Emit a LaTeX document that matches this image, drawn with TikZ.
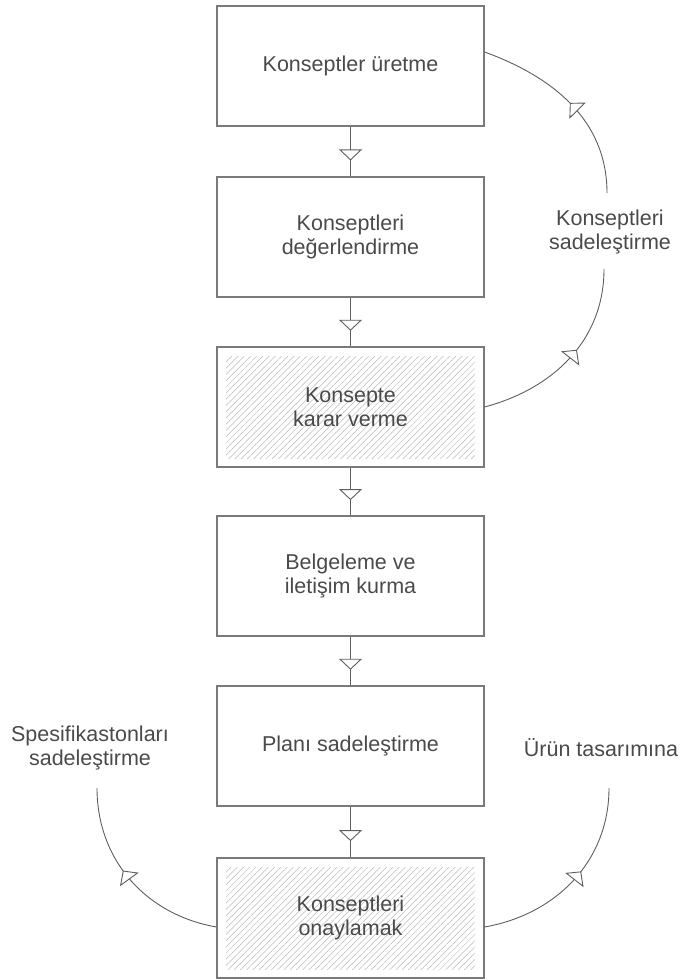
\documentclass[tikz,border=0pt]{standalone}
\usepackage{fontspec}
\setmainfont{Liberation Sans}
\usetikzlibrary{arrows.meta,decorations.markings,patterns.meta,positioning}
\definecolor{boxgray}{HTML}{7A7A7A}
\definecolor{linegray}{HTML}{5E5E5E}
\definecolor{textgray}{HTML}{4A4A4A}
\definecolor{hatchgray}{HTML}{BBBBBB}
\tikzset{
  stage/.style={draw=boxgray, line width=1.2pt, minimum width=267pt,
    minimum height=120pt, align=center, text=textgray,
    font=\fontsize{21.5}{24.5}\selectfont},
  hatched/.style={path picture={
    \fill[pattern={Lines[angle=45,distance=4.4pt,line width=0.5pt]},
      pattern color=hatchgray]
      ([shift={(9pt,-9pt)}]path picture bounding box.north west) rectangle
      ([shift={(-9pt,9pt)}]path picture bounding box.south east);}},
  note/.style={align=center, text=textgray, inner sep=0pt,
    font=\fontsize{21.5}{24.5}\selectfont},
  flow/.style={draw=linegray, line width=0.9pt, postaction={decorate},
    decoration={markings, mark=at position #1 with
      {\arrow{Triangle[width=23pt,length=11pt,fill=white,color=linegray]}}}},
}
\begin{document}
\begin{tikzpicture}[x=1pt,y=-1pt]
  \useasboundingbox (0,0) rectangle (681,980);
  % stages
  \node[stage] (gen) at (350.5,66) {Konseptler üretme};
  \node[stage] (eval) at (350.5,237) {Konseptleri\\değerlendirme};
  \node[stage,hatched] (pick) at (350.5,407) {Konsepte\\karar verme};
  \node[stage] (doc) at (350.5,576) {Belgeleme ve\\iletişim kurma};
  \node[stage] (plan) at (350.5,746) {Planı sadeleştirme};
  \node[stage,hatched] (ok) at (350.5,918) {Konseptleri\\onaylamak};
  % side notes
  \node[note] (simp) at (610,232) {Konseptleri\\sadeleştirme};
  \node[note] (spec) at (90,748) {Spesifikastonları\\sadeleştirme};
  \node[note] (prod) at (601,748) {Ürün tasarımına};
  \coordinate (simp-in) at (604,269);
  \coordinate (simp-out) at (607,193);
  \coordinate (spec-in) at (97,788);
  \coordinate (prod-in) at (609,788);
  % main flow
  \foreach \a/\b in {gen/eval, eval/pick, pick/doc, doc/plan, plan/ok}
    \draw[flow=0.68] (\a.south) -- (\b.north);
  % loops
  \draw[flow=0.56] (pick.east) to[out=15,in=-90] (simp-in);
  \draw[flow=0.5] (simp-out) to[out=90,in=-20] ([yshift=14pt]gen.east);
  \draw[flow=0.56] ([yshift=-9pt]ok.west) to[out=170,in=-90] (spec-in);
  \draw[flow=0.56] ([yshift=-9pt]ok.east) to[out=10,in=-90] (prod-in);
\end{tikzpicture}
\end{document}
